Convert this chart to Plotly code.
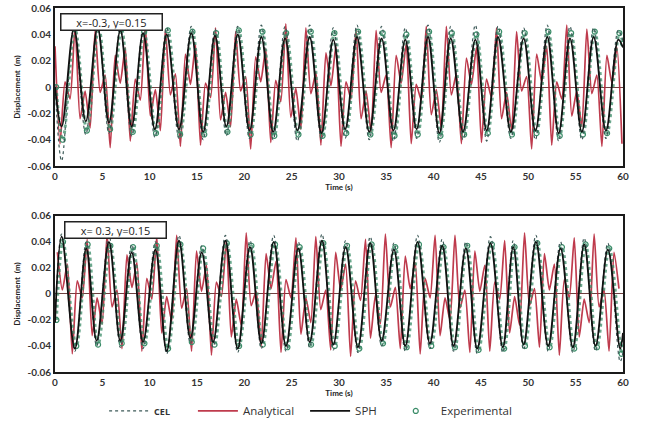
import plotly.graph_objects as go

# ---------------- data (extrema of each record) ----------------
# top panel: x=-0.3, y=0.15
top_t = [0.0, 0.7, 2.0, 3.25, 4.5, 5.7, 6.9, 8.1, 9.3, 10.55, 11.8, 13.1, 14.4, 15.65,
         16.9, 18.1, 19.3, 20.55, 21.8, 23.05, 24.3, 25.6, 26.9, 28.15, 29.4, 30.65,
         31.9, 33.2, 34.5, 35.75, 37.0, 38.2, 39.4, 40.6, 41.8, 43.1, 44.4, 45.6, 46.8,
         48.15, 49.5, 50.75, 52.0, 53.2, 54.4, 55.65, 56.9, 58.2, 59.5, 60.0]
top_sph = [0.0, -0.030, 0.044, -0.026, 0.045, -0.027, 0.043, -0.030, 0.041, -0.032, 0.040, -0.032,
           0.041, -0.034, 0.039, -0.030, 0.040, -0.033, 0.038, -0.034, 0.037, -0.033, 0.038, -0.035,
           0.036, -0.032, 0.038, -0.034, 0.037, -0.033, 0.036, -0.032, 0.038, -0.035, 0.037, -0.034,
           0.036, -0.033, 0.038, -0.034, 0.037, -0.033, 0.038, -0.035, 0.037, -0.034, 0.038, -0.033,
           0.036, 0.030]
top_cel = [0.002, -0.056, 0.046, -0.036, 0.047, -0.035, 0.046, -0.037, 0.044, -0.038, 0.045, -0.039,
           0.046, -0.040, 0.044, -0.037, 0.046, -0.039, 0.047, -0.040, 0.046, -0.041, 0.047, -0.040,
           0.045, -0.039, 0.047, -0.040, 0.046, -0.041, 0.045, -0.039, 0.047, -0.042, 0.046, -0.040,
           0.047, -0.041, 0.046, -0.039, 0.045, -0.040, 0.047, -0.041, 0.046, -0.040, 0.045, -0.039,
           0.043, 0.035]
top_exp = [0.0, -0.040, 0.044, -0.033, 0.045, -0.032, 0.044, -0.034, 0.042, -0.035, 0.043, -0.036,
           0.042, -0.036, 0.041, -0.034, 0.043, -0.036, 0.042, -0.037, 0.041, -0.036, 0.042, -0.037,
           0.041, -0.035, 0.042, -0.036, 0.041, -0.037, 0.040, -0.036, 0.042, -0.037, 0.041, -0.036,
           0.040, -0.035, 0.042, -0.036, 0.041, -0.035, 0.042, -0.037, 0.041, -0.036, 0.042, -0.035,
           0.041, 0.033]
top_exp_lag = 0.12   # experimental record lags the SPH curve slightly (s)
top_ana_start, top_ana_half = 0.0, 0.53
top_ana = [0.031, -0.043, 0.004, -0.009, 0.046, -0.024, -0.003, -0.031, 0.043, -0.004, 0.009, -0.046, 0.024, 0.003,
           0.030, -0.041, 0.006, -0.010, 0.047, -0.022, -0.002, -0.033, 0.044, -0.006, 0.010, -0.045, 0.025, 0.002,
           0.032, -0.044, 0.003, -0.008, 0.045, -0.025, -0.004, -0.030, 0.042, -0.003, 0.008, -0.047, 0.023, 0.004,
           0.029, -0.042, 0.005, -0.011, 0.048, -0.023, -0.001, -0.032, 0.045, -0.005, 0.011, -0.044, 0.026, 0.001,
           0.031, -0.045, 0.004, -0.009, 0.044, -0.024, -0.003, -0.034, 0.043, -0.004, 0.009, -0.046, 0.024, 0.003,
           0.033, -0.043, 0.002, -0.010, 0.046, -0.021, -0.002, -0.031, 0.046, -0.006, 0.010, -0.043, 0.022, 0.002,
           0.030, -0.042, 0.006, -0.008, 0.045, -0.024, -0.004, -0.033, 0.042, -0.003, 0.008, -0.047, 0.025, 0.004,
           0.031, -0.044, 0.004, -0.009, 0.047, -0.022, -0.003, -0.030, 0.044, -0.005, 0.009, -0.045, 0.024, 0.003,
           0.030, -0.043]

# bottom panel: x=0.3, y=0.15
bot_t = [0.0, 0.7, 2.1, 3.3, 4.4, 5.7, 6.9, 8.1, 9.3, 10.6, 11.8, 13.1, 14.3, 15.5, 16.7, 18.0,
         19.3, 20.6, 21.8, 23.1, 24.4, 25.7, 26.9, 28.2, 29.4, 30.7, 32.0, 33.3, 34.5, 35.8,
         37.0, 38.3, 39.6, 40.9, 42.1, 43.4, 44.6, 46.0, 47.3, 48.4, 49.5, 50.8, 52.1, 53.4,
         54.7, 55.9, 57.1, 58.4, 59.7, 60.0]
bot_sph = [-0.022, 0.044, -0.042, 0.035, -0.036, 0.040, -0.036, 0.032, -0.037, 0.034, -0.044,
           0.041, -0.034, 0.032, -0.037, 0.041, -0.042, 0.036, -0.038, 0.040, -0.040, 0.035, -0.037,
           0.041, -0.039, 0.036, -0.041, 0.039, -0.036, 0.034, -0.040, 0.040, -0.038, 0.037, -0.040,
           0.035, -0.042, 0.039, -0.041, 0.036, -0.039, 0.040, -0.040, 0.035, -0.041, 0.038, -0.040,
           0.034, -0.042, -0.030]
bot_cel = [-0.020, 0.046, -0.044, 0.040, -0.040, 0.045, -0.041, 0.038, -0.042, 0.040, -0.046,
           0.045, -0.038, 0.037, -0.041, 0.045, -0.045, 0.041, -0.042, 0.045, -0.044, 0.040, -0.041,
           0.046, -0.043, 0.041, -0.045, 0.044, -0.040, 0.039, -0.044, 0.045, -0.042, 0.042, -0.044,
           0.040, -0.046, 0.044, -0.045, 0.041, -0.043, 0.045, -0.044, 0.040, -0.045, 0.043, -0.044,
           0.039, -0.052, -0.045]
bot_exp = [-0.020, 0.040, -0.040, 0.038, -0.039, 0.037, -0.038, 0.036, -0.038, 0.037, -0.042,
           0.038, -0.037, 0.035, -0.039, 0.039, -0.040, 0.037, -0.039, 0.038, -0.041, 0.036, -0.039,
           0.039, -0.040, 0.037, -0.042, 0.038, -0.038, 0.036, -0.041, 0.038, -0.040, 0.036, -0.041,
           0.037, -0.043, 0.038, -0.042, 0.036, -0.040, 0.039, -0.041, 0.036, -0.042, 0.038, -0.041,
           0.035, -0.046, -0.038]
bot_exp_lag = 0.15
bot_ana_start, bot_ana_half = 0.25, 0.525
bot_ana = [0.032, 0.003, 0.023, -0.046, 0.010, -0.003, 0.042, -0.032, -0.003, -0.023, 0.046, -0.010, 0.003, -0.042,
           0.030, 0.005, 0.024, -0.044, 0.012, -0.004, 0.044, -0.030, -0.002, -0.021, 0.045, -0.011, 0.004, -0.044,
           0.033, 0.002, 0.022, -0.047, 0.009, -0.002, 0.041, -0.033, -0.004, -0.024, 0.047, -0.009, 0.002, -0.041,
           0.031, 0.004, 0.025, -0.045, 0.011, -0.003, 0.043, -0.031, -0.003, -0.022, 0.044, -0.012, 0.003, -0.043,
           0.032, 0.003, 0.023, -0.048, 0.010, -0.005, 0.042, -0.034, -0.001, -0.023, 0.046, -0.010, 0.005, -0.042,
           0.029, 0.004, 0.024, -0.046, 0.012, -0.003, 0.045, -0.032, -0.003, -0.020, 0.045, -0.011, 0.003, -0.045,
           0.033, 0.002, 0.022, -0.044, 0.009, -0.004, 0.041, -0.030, -0.002, -0.024, 0.047, -0.009, 0.004, -0.041,
           0.031, 0.003, 0.023, -0.047, 0.011, -0.003, 0.043, -0.033, -0.004, -0.022, 0.046, -0.010, 0.003, -0.044,
           0.032, 0.004]

x_ticks = [0, 5, 10, 15, 20, 25, 30, 35, 40, 45, 50, 55, 60]
y_ticks = [-0.06, -0.04, -0.02, 0, 0.02, 0.04, 0.06]
y_labels = ["-0.06", "-0.04", "-0.02", "0", "0.02", "0.04", "0.06"]
panel_labels = ["x=-0.3, y=0.15", "x= 0.3, y=0.15"]

# ---------------- styles ----------------
RED = "#b8263a"
CEL_C = "#3d5a58"
EXP_C = "#3a8c68"
FONT = "Lato"
NB = "&nbsp;"

fig = go.Figure()

panels = [
    ("x", "y", top_t, top_sph, top_cel, top_exp, top_exp_lag, top_ana_start, top_ana_half, top_ana, True),
    ("x2", "y2", bot_t, bot_sph, bot_cel, bot_exp, bot_exp_lag, bot_ana_start, bot_ana_half, bot_ana, False),
]
for xa, ya, t, sph, cel, exp, lag, a0, ah, ana, show in panels:
    ana_t = [round(a0 + ah * i, 3) for i in range(len(ana))]
    exp_t = [min(60.0, round(v + lag, 3)) for v in t]
    fig.add_trace(go.Scatter(x=ana_t, y=ana, mode="lines", name="Analytical" + NB * 2,
                             line=dict(color=RED, width=1.7, shape="spline", smoothing=0.6),
                             opacity=0.9, xaxis=xa, yaxis=ya, showlegend=show, legendrank=2))
    fig.add_trace(go.Scatter(x=exp_t, y=exp, mode="lines",
                             line=dict(color=EXP_C, width=3, dash="dot", shape="spline", smoothing=1),
                             opacity=0.75, xaxis=xa, yaxis=ya, showlegend=False, hoverinfo="skip"))
    fig.add_trace(go.Scatter(x=exp_t, y=exp, mode="markers", name="Experimental",
                             marker=dict(symbol="circle-open", size=5, color=EXP_C, line=dict(width=1.2)),
                             xaxis=xa, yaxis=ya, showlegend=show, legendrank=4))
    fig.add_trace(go.Scatter(x=t, y=cel, mode="lines",
                             name="<span style='font-size:9px'><b>CEL</b></span>" + NB * 6,
                             line=dict(color=CEL_C, width=1.2, dash="dot", shape="spline", smoothing=1),
                             xaxis=xa, yaxis=ya, showlegend=show, legendrank=1))
    fig.add_trace(go.Scatter(x=t, y=sph, mode="lines", name="SPH" + NB * 3,
                             line=dict(color="#111111", width=1.8, shape="spline", smoothing=1),
                             xaxis=xa, yaxis=ya, showlegend=show, legendrank=3))

axis_common = dict(showline=True, mirror=True, linecolor="#1a1a1a", linewidth=2,
                   showgrid=False, ticks="", color="#333",
                   tickfont=dict(family=FONT, size=10, color="#333", weight="bold"))
xa_common = dict(axis_common, range=[0, 60], tickvals=x_ticks, zeroline=False,
                 title=dict(text="Time (s)", font=dict(family=FONT, size=8, color="#222", weight="bold"),
                            standoff=2), automargin=False)
ya_common = dict(axis_common, range=[-0.06, 0.06], tickvals=y_ticks, ticktext=y_labels,
                 zeroline=True, zerolinecolor="#6e4040", zerolinewidth=1,
                 title=dict(text="Displacement  (m)", font=dict(family=FONT, size=8, color="#222", weight="bold"),
                            standoff=6), automargin=False)

fig.update_layout(
    width=651, height=434,
    margin=dict(l=55, r=28, t=8, b=60),
    paper_bgcolor="white", plot_bgcolor="white",
    xaxis=dict(xa_common, domain=[0, 1], anchor="y"),
    yaxis=dict(ya_common, domain=[0.5656, 1.0], anchor="x"),
    xaxis2=dict(xa_common, domain=[0, 1], anchor="y2"),
    yaxis2=dict(ya_common, domain=[0.0, 0.429], anchor="x2"),
    legend=dict(orientation="h", x=0.45, xanchor="center", y=-0.107, yanchor="middle",
                font=dict(family="Open Sans", size=11.5, color="#333"), itemwidth=40,
                bgcolor="rgba(0,0,0,0)", traceorder="normal"),
    showlegend=True,
)

for ya, label in zip(["y", "y2"], panel_labels):
    fig.add_annotation(text=label, xref="x domain" if ya == "y" else "x2 domain",
                       yref=f"{ya} domain", x=0.009 if ya == "y" else 0.016, y=0.97,
                       xanchor="left", yanchor="top", showarrow=False,
                       font=dict(family="Open Sans", size=11, color="#222"),
                       bordercolor="#222", borderwidth=1.5, borderpad=1,
                       bgcolor="white", width=98, height=13)

fig.write_html("out.html")
